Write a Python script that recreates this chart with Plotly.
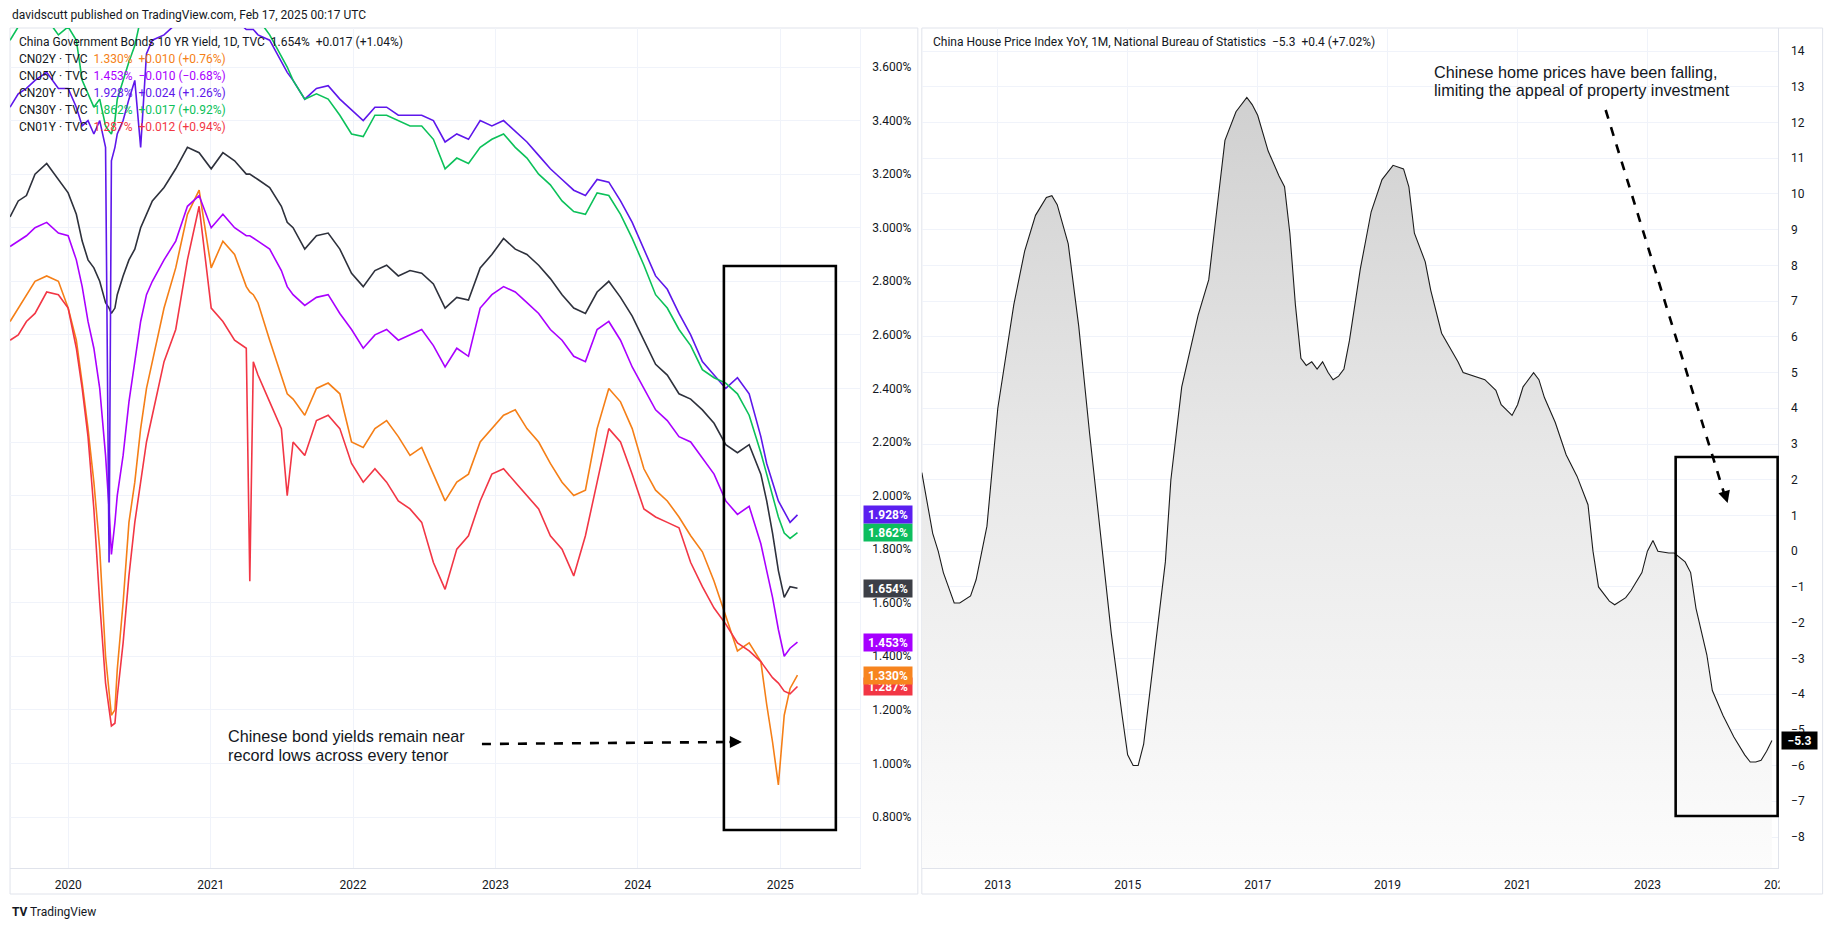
import plotly.graph_objects as go

# Page is 1838x931; the browser keeps its default 8px body margin,
# so the figure itself is 16px smaller in each direction.
PAGE_W, PAGE_H = 1838, 931
OFF = 8
W, H = PAGE_W - 2 * OFF, PAGE_H - 2 * OFF
XK = 1.0075  # horizontal correction observed in the rendered capture

# ---------------- data: Chinese government bond yields (%) ----------------
bond_dates = [
    "2019-08-05", "2019-08-26", "2019-09-16", "2019-10-08", "2019-11-07", "2019-12-07",
    "2020-01-01", "2020-01-22", "2020-02-06", "2020-02-21", "2020-03-07", "2020-03-22",
    "2020-04-06", "2020-04-15", "2020-04-21", "2020-04-30", "2020-05-06", "2020-05-21",
    "2020-06-05", "2020-06-20", "2020-07-05", "2020-07-20", "2020-08-04", "2020-09-03",
    "2020-10-03", "2020-11-02", "2020-12-02", "2021-01-02", "2021-02-01", "2021-03-03",
    "2021-04-02", "2021-04-11", "2021-04-20", "2021-05-02", "2021-06-01", "2021-07-01",
    "2021-07-16", "2021-07-31", "2021-08-30", "2021-09-29", "2021-10-29", "2021-11-28",
    "2021-12-28", "2022-01-27", "2022-02-26", "2022-03-28", "2022-04-27", "2022-05-27",
    "2022-06-26", "2022-07-26", "2022-08-25", "2022-09-24", "2022-10-24", "2022-11-23",
    "2022-12-23", "2023-01-22", "2023-02-21", "2023-03-23", "2023-04-22", "2023-05-22",
    "2023-06-21", "2023-07-21", "2023-08-20", "2023-09-19", "2023-10-19", "2023-11-18",
    "2023-12-18", "2024-01-17", "2024-02-16", "2024-03-17", "2024-04-16", "2024-05-16",
    "2024-06-15", "2024-07-15", "2024-08-14", "2024-09-13", "2024-10-13", "2024-11-12",
    "2024-11-27", "2024-12-12", "2024-12-27", "2025-01-11", "2025-01-26", "2025-02-14",
]

cn10y = [
    3.04, 3.10, 3.12, 3.20, 3.24, 3.18, 3.13, 3.05, 2.95, 2.88, 2.85, 2.80,
    2.72, 2.70, 2.68, 2.70, 2.75, 2.82, 2.88, 2.92, 3.00, 3.05, 3.10, 3.15,
    3.22, 3.30, 3.28, 3.22, 3.28, 3.25, 3.20, 3.20, 3.19, 3.18, 3.15, 3.08,
    3.02, 3.00, 2.92, 2.97, 2.98, 2.92, 2.83, 2.78, 2.84, 2.86, 2.82, 2.84,
    2.83, 2.79, 2.70, 2.74, 2.73, 2.85, 2.90, 2.96, 2.92, 2.90, 2.86, 2.81,
    2.75, 2.70, 2.68, 2.76, 2.80, 2.74, 2.67, 2.58, 2.49, 2.45, 2.38, 2.36,
    2.32, 2.27, 2.19, 2.16, 2.19, 2.08, 1.98, 1.86, 1.72, 1.62, 1.66, 1.654,
]

cn02y = [
    2.65, 2.70, 2.75, 2.80, 2.82, 2.80, 2.70, 2.58, 2.42, 2.25, 2.05, 1.80,
    1.40, 1.25, 1.18, 1.20, 1.35, 1.60, 1.90, 2.05, 2.25, 2.40, 2.50, 2.70,
    2.85, 3.05, 3.14, 2.85, 2.95, 2.90, 2.78, 2.76, 2.75, 2.72, 2.58, 2.45,
    2.38, 2.36, 2.30, 2.40, 2.42, 2.38, 2.20, 2.18, 2.25, 2.28, 2.22, 2.15,
    2.18, 2.08, 1.98, 2.05, 2.08, 2.20, 2.25, 2.30, 2.32, 2.25, 2.20, 2.12,
    2.05, 2.00, 2.02, 2.25, 2.40, 2.35, 2.25, 2.10, 2.02, 1.98, 1.92, 1.85,
    1.79, 1.68, 1.55, 1.42, 1.45, 1.38, 1.22, 1.08, 0.92, 1.18, 1.28, 1.330,
]

cn05y = [
    2.93, 2.95, 2.97, 3.00, 3.02, 2.98, 2.97, 2.88, 2.78, 2.65, 2.55, 2.40,
    2.15, 1.95, 1.78, 1.90, 2.00, 2.15, 2.35, 2.50, 2.65, 2.75, 2.80, 2.88,
    2.95, 3.08, 3.12, 3.00, 3.05, 3.00, 2.97, 2.97, 2.96, 2.95, 2.92, 2.84,
    2.78, 2.75, 2.71, 2.74, 2.75, 2.68, 2.62, 2.55, 2.60, 2.62, 2.58, 2.60,
    2.62, 2.56, 2.48, 2.55, 2.52, 2.70, 2.75, 2.78, 2.76, 2.72, 2.68, 2.62,
    2.58, 2.52, 2.50, 2.62, 2.65, 2.58, 2.48, 2.40, 2.32, 2.28, 2.22, 2.20,
    2.14, 2.08, 1.98, 1.93, 1.96, 1.82, 1.72, 1.62, 1.50, 1.40, 1.43, 1.453,
]

cn20y = [
    3.45, 3.50, 3.52, 3.55, 3.58, 3.52, 3.52, 3.45, 3.38, 3.40, 3.35, 3.40,
    3.30, 1.75, 3.25, 3.30, 3.35, 3.40, 3.48, 3.55, 3.30, 3.65, 3.70, 3.72,
    3.76, 3.82, 3.80, 3.75, 3.80, 3.78, 3.74, 3.74, 3.74, 3.72, 3.70, 3.62,
    3.58, 3.55, 3.48, 3.52, 3.53, 3.48, 3.44, 3.40, 3.45, 3.45, 3.42, 3.42,
    3.42, 3.40, 3.32, 3.35, 3.33, 3.40, 3.38, 3.40, 3.36, 3.32, 3.27, 3.22,
    3.18, 3.14, 3.12, 3.18, 3.17, 3.10, 3.02, 2.92, 2.82, 2.77, 2.68, 2.60,
    2.50, 2.45, 2.40, 2.44, 2.38, 2.22, 2.12, 2.05, 1.98, 1.94, 1.90, 1.928,
]

cn30y = [
    3.70, 3.75, 3.78, 3.80, 3.78, 3.72, 3.75, 3.70, 3.55, 3.50, 3.45, 3.48,
    3.38, 3.36, 3.35, 3.40, 3.48, 3.55, 3.62, 3.68, 3.78, 3.82, 3.85, 3.85,
    3.88, 3.92, 3.90, 3.85, 3.88, 3.85, 3.80, 3.80, 3.80, 3.78, 3.72, 3.64,
    3.60, 3.55, 3.48, 3.50, 3.48, 3.42, 3.35, 3.34, 3.42, 3.42, 3.40, 3.38,
    3.38, 3.33, 3.22, 3.26, 3.24, 3.30, 3.33, 3.35, 3.30, 3.26, 3.20, 3.16,
    3.10, 3.06, 3.05, 3.13, 3.12, 3.05, 2.96, 2.86, 2.75, 2.70, 2.62, 2.56,
    2.47, 2.44, 2.42, 2.38, 2.30, 2.16, 2.08, 2.00, 1.92, 1.86, 1.84, 1.862,
]

cn01y = [
    2.58, 2.60, 2.65, 2.68, 2.76, 2.75, 2.70, 2.55, 2.40, 2.22, 1.95, 1.60,
    1.30, 1.20, 1.14, 1.15, 1.25, 1.45, 1.70, 1.90, 2.05, 2.20, 2.30, 2.50,
    2.62, 2.88, 3.08, 2.70, 2.65, 2.58, 2.55, 1.68, 2.50, 2.45, 2.35, 2.25,
    2.00, 2.20, 2.15, 2.28, 2.30, 2.25, 2.12, 2.05, 2.10, 2.05, 1.98, 1.95,
    1.90, 1.75, 1.65, 1.80, 1.85, 1.98, 2.08, 2.10, 2.05, 2.00, 1.95, 1.85,
    1.80, 1.70, 1.85, 2.05, 2.25, 2.20, 2.08, 1.95, 1.92, 1.90, 1.88, 1.75,
    1.66, 1.58, 1.52, 1.45, 1.42, 1.38, 1.35, 1.32, 1.30, 1.27, 1.26, 1.287,
]

bond_names = ["CN10Y", "CN02Y", "CN05Y", "CN20Y", "CN30Y", "CN01Y"]
bond_last = ["1.654%", "1.330%", "1.453%", "1.928%", "1.862%", "1.287%"]
bond_change = ["+0.017 (+1.04%)", "+0.010 (+0.76%)", "\u22120.010 (\u22120.68%)",
               "+0.024 (+1.26%)", "+0.017 (+0.92%)", "+0.012 (+0.94%)"]
bond_ticks = [0.8, 1.0, 1.2, 1.4, 1.6, 1.8, 2.0, 2.2, 2.4, 2.6, 2.8, 3.0, 3.2, 3.4, 3.6]

# ---------------- data: China house price index YoY (%) ----------------
hpi_dates = [
    "2011-11", "2012-01", "2012-02", "2012-03", "2012-05", "2012-06", "2012-08", "2012-09",
    "2012-11", "2013-01", "2013-04", "2013-06", "2013-08", "2013-10", "2013-11", "2013-12",
    "2014-02", "2014-04", "2014-06", "2014-08", "2014-10", "2014-12", "2015-01", "2015-02",
    "2015-03", "2015-04", "2015-06", "2015-08", "2015-09", "2015-11", "2016-02", "2016-04",
    "2016-05", "2016-07", "2016-09", "2016-11", "2016-12", "2017-01", "2017-03", "2017-05",
    "2017-06", "2017-07", "2017-08", "2017-09", "2017-10", "2017-11", "2017-12", "2018-01",
    "2018-02", "2018-03", "2018-04", "2018-05", "2018-06", "2018-08", "2018-10", "2018-12",
    "2019-02", "2019-04", "2019-05", "2019-06", "2019-08", "2019-09", "2019-11", "2020-02",
    "2020-03", "2020-05", "2020-07", "2020-09", "2020-10", "2020-12", "2021-01", "2021-02",
    "2021-04", "2021-05", "2021-06", "2021-08", "2021-10", "2021-12", "2022-02", "2022-03",
    "2022-04", "2022-06", "2022-07", "2022-09", "2022-10", "2022-12", "2023-01", "2023-02",
    "2023-03", "2023-05", "2023-06", "2023-08", "2023-09", "2023-10", "2023-12", "2024-01",
    "2024-03", "2024-05", "2024-07", "2024-08", "2024-09", "2024-10", "2024-11", "2024-12",
]
hpi_yoy = [
    2.2, 0.5, 0.0, -0.6, -1.45, -1.45, -1.25, -0.8,
    0.7, 4.0, 6.9, 8.4, 9.4, 9.9, 9.95, 9.7,
    8.6, 6.3, 3.3, 0.4, -2.3, -4.6, -5.7, -6.0,
    -6.0, -5.4, -2.9, -0.3, 2.0, 4.6, 6.6, 7.6,
    8.9, 11.5, 12.3, 12.7, 12.5, 12.2, 11.2, 10.5,
    10.2, 8.9, 6.9, 5.4, 5.2, 5.3, 5.1, 5.3,
    5.0, 4.8, 4.9, 5.1, 5.9, 7.9, 9.5, 10.4,
    10.8, 10.7, 10.2, 8.9, 8.1, 7.3, 6.1, 5.3,
    5.0, 4.9, 4.8, 4.5, 4.1, 3.8, 4.1, 4.6,
    5.0, 4.8, 4.3, 3.6, 2.7, 2.1, 1.3, 0.0,
    -1.0, -1.4, -1.5, -1.3, -1.1, -0.6, 0.0, 0.3,
    0.0, -0.05, -0.05, -0.3, -0.6, -1.6, -2.9, -3.9,
    -4.6, -5.2, -5.7, -5.9, -5.9, -5.85, -5.6, -5.3,
]
hpi_ticks = list(range(-8, 15))

# ---------------- styling ----------------
colors = {
    "CN10Y": "#2e313c",
    "CN02Y": "#f57f17",
    "CN05Y": "#aa00ff",
    "CN20Y": "#5e17eb",
    "CN30Y": "#0cc15a",
    "CN01Y": "#f23645",
}
label_colors = {
    "CN10Y": "#3c3f47",
    "CN02Y": "#f7841f",
    "CN05Y": "#a600ff",
    "CN20Y": "#5b1ff0",
    "CN30Y": "#0dbd5f",
    "CN01Y": "#f23645",
}
TXT = "#131722"
GRID = "#f0f3fa"
BORDER = "#e0e3eb"
UI_FONT = "Roboto, Arial, sans-serif"
ANN_FONT = "Arial, Liberation Sans, sans-serif"


def px(x):
    """page pixel x -> paper fraction"""
    return (x * XK - OFF) / W


def py(y):
    """page pixel y -> paper fraction"""
    return 1 - (y - OFF) / H


PLOT_TOP, PLOT_BOT = 28, 868
L_X0, L_X1 = 10, 860
R_X0, R_X1 = 922, 1778

# y ranges from pixel calibration: left 3.600% at y=67, 0.800% at y=817
l_ppu = (817 - 67) / 2.8
l_top = 3.6 + (67 - PLOT_TOP) / l_ppu
l_bot = 0.8 - (PLOT_BOT - 817) / l_ppu
# right 14 at y=51, -8 at y=837
r_ppu = (837 - 51) / 22
r_top = 14 + (51 - PLOT_TOP) / r_ppu
r_bot = -8 - (PLOT_BOT - 837) / r_ppu

fig = go.Figure()

bond_values = {
    "CN10Y": cn10y, "CN02Y": cn02y, "CN05Y": cn05y,
    "CN20Y": cn20y, "CN30Y": cn30y, "CN01Y": cn01y,
}
for name in bond_names:
    fig.add_trace(go.Scatter(
        x=bond_dates, y=bond_values[name], mode="lines", name=name,
        line=dict(color=colors[name], width=1.6),
        xaxis="x", yaxis="y", showlegend=False, hoverinfo="skip",
    ))

# baseline for area fill, then house price index
fig.add_trace(go.Scatter(
    x=[hpi_dates[0], hpi_dates[-1]], y=[r_bot, r_bot], mode="lines",
    line=dict(width=0, color="rgba(0,0,0,0)"), xaxis="x2", yaxis="y2",
    showlegend=False, hoverinfo="skip",
))
fig.add_trace(go.Scatter(
    x=hpi_dates, y=hpi_yoy, mode="lines", name="China HPI YoY",
    line=dict(color="#1c1c1c", width=1.1),
    fill="tonexty",
    fillgradient=dict(type="vertical", start=r_bot, stop=14,
                      colorscale=[[0, "rgba(252,252,252,1)"],
                                  [0.5, "rgba(232,232,232,1)"],
                                  [1, "rgba(205,205,205,1)"]]),
    xaxis="x2", yaxis="y2", showlegend=False, hoverinfo="skip",
))

axis_font = dict(family=UI_FONT, size=12, color=TXT)

fig.update_layout(
    width=W, height=H,
    margin=dict(l=0, r=0, t=0, b=0),
    paper_bgcolor="white", plot_bgcolor="white",
    showlegend=False,
    xaxis=dict(
        domain=[px(L_X0), px(L_X1)], anchor="y",
        range=["2019-08-05", "2025-07-24"], type="date",
        tickformat="%Y", dtick="M12", tick0="2020-01-01",
        showgrid=True, gridcolor=GRID, gridwidth=1,
        ticks="outside", ticklen=6, tickcolor="rgba(0,0,0,0)",
        tickfont=axis_font, showline=True, linecolor=BORDER, linewidth=1,
        zeroline=False, fixedrange=True,
    ),
    yaxis=dict(
        domain=[py(PLOT_BOT), py(PLOT_TOP)], anchor="x", side="right",
        range=[l_bot, l_top], tickvals=bond_ticks,
        ticktext=[f"{v:.3f}%" for v in bond_ticks],
        showgrid=True, gridcolor=GRID, gridwidth=1,
        ticks="outside", ticklen=9, tickcolor="rgba(0,0,0,0)",
        tickfont=axis_font, showline=True, linecolor=GRID, linewidth=1,
        zeroline=False, fixedrange=True,
    ),
    xaxis2=dict(
        domain=[px(R_X0), min(1.0, px(R_X1))], anchor="y2",
        range=["2011-11-01", "2025-01-02"], type="date",
        tickformat="%Y", dtick="M24", tick0="2013-01-01",
        showgrid=True, gridcolor=GRID, gridwidth=1,
        ticks="outside", ticklen=6, tickcolor="rgba(0,0,0,0)",
        tickfont=axis_font, showline=True, linecolor=BORDER, linewidth=1,
        zeroline=False, fixedrange=True,
    ),
    yaxis2=dict(
        domain=[py(PLOT_BOT), py(PLOT_TOP)], anchor="x2", side="right",
        range=[r_bot, r_top], tickvals=hpi_ticks,
        ticktext=[str(v).replace("-", "\u2212") for v in hpi_ticks],
        showgrid=True, gridcolor=GRID, gridwidth=1,
        ticks="outside", ticklen=10, tickcolor="rgba(0,0,0,0)",
        tickfont=axis_font, showline=True, linecolor=BORDER, linewidth=1,
        zeroline=False, fixedrange=True,
    ),
)

shapes = []
# panel borders
for x0, x1 in [(10, 918), (922, 1823)]:
    shapes.append(dict(type="rect", xref="paper", yref="paper",
                       x0=px(x0), x1=px(x1), y0=py(894), y1=py(PLOT_TOP),
                       line=dict(color=BORDER, width=1), layer="below"))
# clip the partial 2025 label on the right panel
shapes.append(dict(type="rect", xref="paper", yref="paper",
                   x0=px(1780), x1=px(1822), y0=py(893), y1=py(870),
                   fillcolor="white", line=dict(width=0), layer="above"))
# highlight boxes
shapes.append(dict(type="rect", xref="paper", yref="paper",
                   x0=px(724), x1=px(836), y0=py(830), y1=py(266),
                   line=dict(color="black", width=2.6), layer="above"))
shapes.append(dict(type="rect", xref="paper", yref="paper",
                   x0=px(1676), x1=px(1778), y0=py(816), y1=py(457),
                   line=dict(color="black", width=2.6), layer="above"))
# dashed arrow shafts
shapes.append(dict(type="line", xref="paper", yref="paper",
                   x0=px(482), y0=py(744), x1=px(733), y1=py(742),
                   line=dict(color="black", width=2.6, dash="dash"), layer="above"))
shapes.append(dict(type="line", xref="paper", yref="paper",
                   x0=px(1606), y0=py(110), x1=px(1724), y1=py(492),
                   line=dict(color="black", width=2.6, dash="dash"), layer="above"))
fig.update_layout(shapes=shapes)

ann = []
# header
ann.append(dict(xref="paper", yref="paper", x=px(10), y=py(15), xanchor="left",
                yanchor="middle", showarrow=False,
                text="davidscutt published on TradingView.com, Feb 17, 2025 00:17 UTC",
                font=dict(family=UI_FONT, size=12, color=TXT)))
# left legend
NB = "\u00a0"
legend_rows = [("China Government Bonds 10 YR Yield, 1D, TVC", "CN10Y")] + \
    [(f"{n} \u00b7 TVC", n) for n in bond_names[1:]]
row_y = [42, 59, 76, 93, 110, 127]
for (label, key), yy in zip(legend_rows, row_y):
    i = bond_names.index(key)
    vcol = TXT if key == "CN10Y" else colors[key]
    ann.append(dict(xref="paper", yref="paper", x=px(17), y=py(yy), xanchor="left",
                    yanchor="middle", showarrow=False,
                    text=f"{label}{NB}{NB}<span style='color:{vcol}'>{bond_last[i]}{NB}{NB}{bond_change[i]}</span>",
                    font=dict(family=UI_FONT, size=12, color=TXT)))
# right title
ann.append(dict(xref="paper", yref="paper", x=px(931), y=py(42), xanchor="left",
                yanchor="middle", showarrow=False,
                text=f"China House Price Index YoY, 1M, National Bureau of Statistics{NB}{NB}\u22125.3{NB}{NB}+0.4 (+7.02%)",
                font=dict(family=UI_FONT, size=12, color=TXT)))
# price labels on left axis (1.287 first so 1.330 overlaps it)
label_order = ["CN01Y", "CN02Y", "CN05Y", "CN10Y", "CN30Y", "CN20Y"]
for key in label_order:
    i = bond_names.index(key)
    ann.append(dict(xref="paper", yref="y", x=px(888), y=bond_values[key][-1],
                    xanchor="center", yanchor="middle", showarrow=False,
                    text=f"<b>{bond_last[i]}</b>", bgcolor=label_colors[key],
                    width=46, height=15, borderpad=1,
                    font=dict(family=UI_FONT, size=12, color="white")))
# last value label on right axis
ann.append(dict(xref="paper", yref="y2", x=px(1781), y=hpi_yoy[-1],
                xanchor="left", yanchor="middle", showarrow=False,
                text="<b>\u22125.3</b>", bgcolor="black", width=33, height=15, borderpad=1,
                font=dict(family=UI_FONT, size=12, color="white")))
# commentary
for txt, xx, yy in [("Chinese bond yields remain near", 226, 736),
                    ("record lows across every tenor", 226, 755),
                    ("Chinese home prices have been falling,", 1432, 72),
                    ("limiting the appeal of property investment", 1432, 90)]:
    ann.append(dict(xref="paper", yref="paper", x=px(xx), y=py(yy), xanchor="left",
                    yanchor="middle", showarrow=False, text=txt,
                    font=dict(family=ANN_FONT, size=16.2, color="#131722")))
# arrow heads
ann.append(dict(xref="paper", yref="paper", x=px(742), y=py(742), ax=-14, ay=0,
                showarrow=True, arrowhead=2,
                arrowsize=1, arrowwidth=2.4, arrowcolor="black", text=""))
ann.append(dict(xref="paper", yref="paper", x=px(1728), y=py(503), ax=-4, ay=-13,
                showarrow=True, arrowhead=2, arrowsize=1, arrowwidth=2.4,
                arrowcolor="black", text=""))
# TradingView logo text
ann.append(dict(xref="paper", yref="paper", x=px(10), y=py(912), xanchor="left",
                yanchor="middle", showarrow=False,
                text="<b>TV</b> TradingView",
                font=dict(family=UI_FONT, size=12, color=TXT)))
fig.update_layout(annotations=ann)

fig.write_html("out.html", config={"displayModeBar": False})
